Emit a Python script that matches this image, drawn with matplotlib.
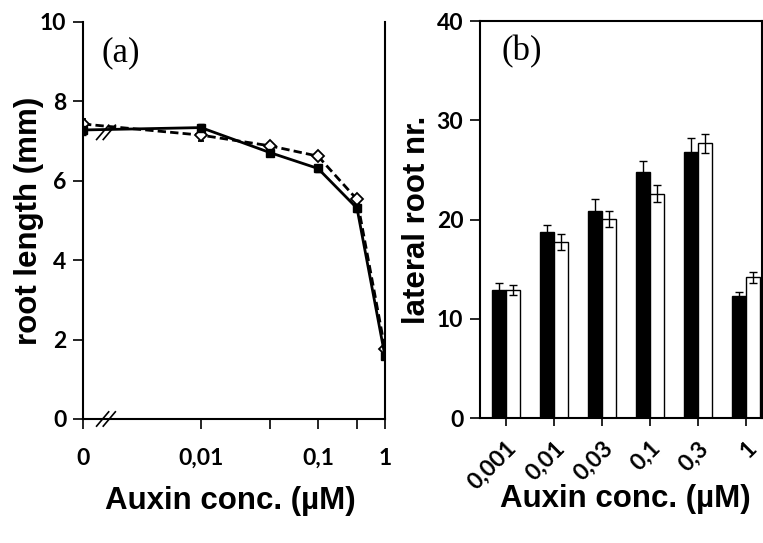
import numpy as np
import matplotlib.pyplot as plt

# auxin concentrations (µM); first one is the untreated control plotted as "0"
conc_labels = ['0', '0,01', '', '0,1', '', '1']
conc_pos = [0, 1.18, 1.87, 2.35, 2.74, 3.02]   # axis positions of each concentration

# root length (mm)
len_solid = [7.28, 7.34, 6.71, 6.31, 5.31, 1.58]
len_solid_err = [0.12, 0.10, 0.08, 0.10, 0.10, 0.08]
len_dash = [7.43, 7.15, 6.88, 6.62, 5.53, 1.76]
len_dash_err = [0.12, 0.15, 0.08, 0.08, 0.08, 0.08]

# lateral root number
bar_labels = ['0,001', '0,01', '0,03', '0,1', '0,3', '1']
lr_black = [12.9, 18.7, 20.9, 24.8, 26.8, 12.3]
lr_black_err = [0.7, 0.7, 1.2, 1.1, 1.4, 0.4]
lr_white = [12.9, 17.7, 20.05, 22.6, 27.7, 14.2]
lr_white_err = [0.5, 0.8, 0.8, 0.85, 0.95, 0.55]

tick_font = {'family': 'Lato', 'weight': 'bold', 'size': 16.5}
label_font = {'family': 'Liberation Sans', 'weight': 'bold', 'size': 22.5}
panel_font = {'family': 'Liberation Serif', 'size': 25}

fig = plt.figure(figsize=(7.63, 5.43), dpi=100)

# ---- (a) root length ----
ax1 = fig.add_axes([0.1088, 0.2284, 0.3958, 0.7311])
ax1.errorbar(conc_pos, len_dash, yerr=len_dash_err, color='black', ls='--', lw=2,
             marker='D', ms=6.5, mfc='white', mec='black', mew=1.3,
             capsize=2.5, elinewidth=1, dashes=(3, 1.5))
ax1.errorbar(conc_pos, len_solid, yerr=len_solid_err, color='black', ls='-', lw=2,
             marker='s', ms=6, mfc='black', mec='black', capsize=2.5, elinewidth=1)
ax1.set_xlim(0, 3.02)
ax1.set_ylim(0, 10)
ax1.set_yticks([0, 2, 4, 6, 8, 10])
ax1.set_xticks(conc_pos)
ax1.set_xticklabels(conc_labels, fontdict=tick_font)
ax1.set_yticklabels(['0', '2', '4', '6', '8', '10'], fontdict=tick_font)
ax1.tick_params(axis='x', length=7, width=1.2, pad=14)
ax1.tick_params(axis='y', length=7, width=1.2, pad=5)
ax1.spines['top'].set_visible(False)
for s in ['left', 'bottom', 'right']:
    ax1.spines[s].set_linewidth(1.5)
ax1.set_xlabel('Auxin conc. (µM)', fontdict=label_font)
ax1.set_ylabel('root length (mm)', fontdict=label_font)
ax1.xaxis.set_label_coords(0.487, -0.17)
ax1.yaxis.set_label_coords(-0.13, 0.5)
ax1.text(0.06, 0.9, '(a)', transform=ax1.transAxes, fontdict=panel_font)

# axis break marks
for yb in [0.0, 0.722]:
    for dx in [0.0, 0.022]:
        ax1.plot([0.045 + dx, 0.085 + dx], [yb - 0.018, yb + 0.018],
                 transform=ax1.transAxes, color='black', lw=1.2, clip_on=False)

# ---- (b) lateral roots ----
ax2 = fig.add_axes([0.629, 0.2302, 0.3696, 0.7311])
x = np.arange(len(bar_labels))
w = 0.29
ax2.bar(x - w / 2, lr_black, w, color='black', edgecolor='black', lw=1,
        yerr=lr_black_err, capsize=3, error_kw={'elinewidth': 1, 'capthick': 1})
ax2.bar(x + w / 2, lr_white, w, color='white', edgecolor='black', lw=1,
        yerr=lr_white_err, capsize=3, error_kw={'elinewidth': 1, 'capthick': 1})
ax2.set_xlim(-0.54, 5.33)
ax2.set_ylim(0, 40)
ax2.set_yticks([0, 10, 20, 30, 40])
ax2.set_yticklabels(['0', '10', '20', '30', '40'], fontdict=tick_font)
ax2.set_xticks(x)
ax2.set_xticklabels(bar_labels, fontdict=tick_font, rotation=45, ha='right',
                    rotation_mode='anchor')
ax2.tick_params(axis='x', length=6, width=1.2, pad=8)
ax2.tick_params(axis='y', length=7, width=1.2, pad=5)
for s in ax2.spines.values():
    s.set_linewidth(1.5)
ax2.set_xlabel('Auxin conc. (µM)', fontdict=label_font)
ax2.set_ylabel('lateral root nr.', fontdict=label_font)
ax2.xaxis.set_label_coords(0.514, -0.165)
ax2.yaxis.set_label_coords(-0.17, 0.5)
ax2.text(0.075, 0.9, '(b)', transform=ax2.transAxes, fontdict=panel_font)

fig.savefig('out.png', dpi=100)
